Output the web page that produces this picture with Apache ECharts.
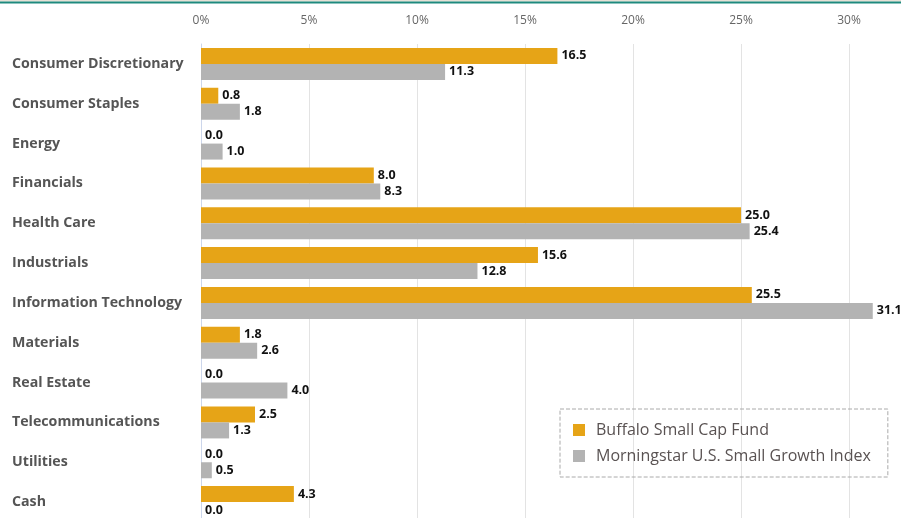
<!DOCTYPE html>
<html><head><meta charset="utf-8">
<script src="https://cdn.jsdelivr.net/npm/echarts@6/dist/echarts.min.js"></script>
<style>html,body{margin:0;padding:0;background:#fff}#c{width:901px;height:518px}</style>
</head><body><div id="c"></div>
<script>
var categories = ['Consumer Discretionary','Consumer Staples','Energy','Financials','Health Care','Industrials','Information Technology','Materials','Real Estate','Telecommunications','Utilities','Cash'];
var fundValues = [16.5,0.8,0.0,8.0,25.0,15.6,25.5,1.8,0.0,2.5,0.0,4.3];
var indexValues = [11.3,1.8,1.0,8.3,25.4,12.8,31.1,2.6,4.0,1.3,0.5,0.0];
var seriesNames = ['Buffalo Small Cap Fund','Morningstar U.S. Small Growth Index'];
var tickStep = 5;

var chart = echarts.init(document.getElementById('c'), null, {renderer:'canvas'});
var lbl = {show:true, position:'right', distance:4, color:'#111', fontWeight:'bold', fontSize:12.5, fontFamily:'Open Sans', formatter:function(p){return p.value.toFixed(1);}};
chart.setOption({
  animation:false,
  textStyle:{fontFamily:'Open Sans'},
  graphic:[
    {type:'rect', shape:{x:0,y:0,width:901,height:1.5}, style:{fill:'#e6e1d6'}},
    {type:'rect', shape:{x:0,y:1.5,width:901,height:2}, style:{fill:'#1f8a7e'}}
  ],
  grid:{left:201, width:756, top:44, height:478, containLabel:false, outerBoundsMode:'none'},
  xAxis:{type:'value', position:'top', min:0, max:35, interval:tickStep,
    axisLine:{show:false}, axisTick:{show:false},
    axisLabel:{formatter:'{value}%', color:'#666', fontSize:12, margin:17},
    splitLine:{lineStyle:{color:'#e3e3e3', width:1}}},
  yAxis:{type:'category', data:categories, inverse:true,
    axisLine:{show:true, lineStyle:{color:'#ccd6eb'}}, axisTick:{show:false},
    axisLabel:{align:'left', margin:189, color:'#555', fontWeight:'bold', fontSize:14.2}},
  legend:{orient:'vertical', left:560, top:409, width:329,
    padding:[13,17,13,13], itemGap:10, itemWidth:12, itemHeight:12, icon:'rect',
    borderColor:'#aaa', borderWidth:1, borderType:'dashed',
    textStyle:{color:'#595252', fontSize:16, padding:[0,0,0,6]},
    data:seriesNames},
  series:[
    {name:seriesNames[0], type:'bar', data:fundValues, barWidth:16, barGap:'0%', barCategoryGap:'20%',
     itemStyle:{color:'#e6a417'}, label:lbl},
    {name:seriesNames[1], type:'bar', data:indexValues, barWidth:16, barGap:'0%', barCategoryGap:'20%',
     itemStyle:{color:'#b3b3b3'}, label:lbl}
  ]
});
</script></body></html>
